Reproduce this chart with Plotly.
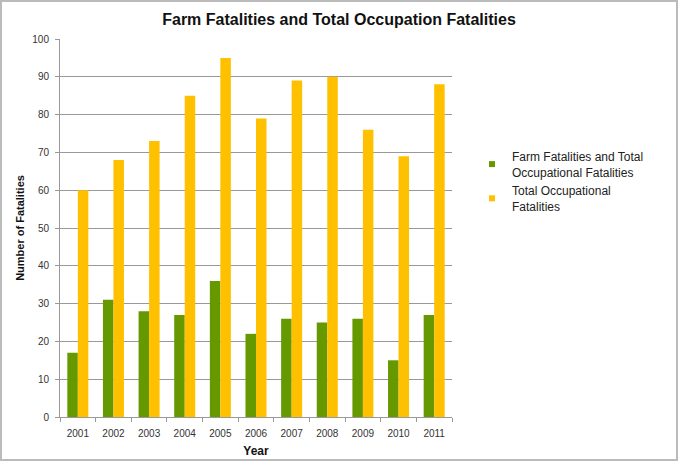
import plotly.graph_objects as go

years = ["2001", "2002", "2003", "2004", "2005", "2006", "2007", "2008", "2009", "2010", "2011"]
farm = [17, 31, 28, 27, 36, 22, 26, 25, 26, 15, 27]
total = [60, 68, 73, 85, 95, 79, 89, 90, 76, 69, 88]
y_ticks = [0, 10, 20, 30, 40, 50, 60, 70, 80, 90, 100]
names = ["Farm Fatalities and Total<br>Occupational Fatalities", "Total Occupational<br>Fatalities"]
colors = ["#669900", "#FFC000"]

W, H = 678, 461
ml, mr, mt, mb = 60, 226, 39, 44
pw, ph = W - ml - mr, H - mt - mb

fig = go.Figure()
for vals, nm, c in zip([farm, total], names, colors):
    fig.add_trace(go.Bar(x=years, y=vals, name=nm, showlegend=False, legendgroup=nm,
                         marker=dict(color=c, line=dict(width=0))))
for nm, c in zip(names, colors):
    fig.add_trace(go.Scatter(x=[None], y=[None], mode="markers", name=nm, legendgroup=nm,
                             marker=dict(symbol="square", size=6, color=c)))

fig.update_layout(
    width=W, height=H,
    margin=dict(l=ml, r=mr, t=mt, b=mb, autoexpand=False),
    paper_bgcolor="white", plot_bgcolor="white",
    font=dict(family="Liberation Sans, Arial, sans-serif", color="#222"),
    barmode="group", bargap=0.41, bargroupgap=0,
    title=dict(text="<b>Farm Fatalities and Total Occupation Fatalities</b>",
               x=0.5, xanchor="center", y=1 - 19 / H, yanchor="middle",
               font=dict(size=16, color="#111")),
    xaxis=dict(title=dict(text="<b>Year</b>", font=dict(size=12, color="#111"), standoff=8),
               tickfont=dict(size=10, color="#333"), showgrid=False,
               showline=True, linecolor="#999", linewidth=1,
               ticks="outside", ticklen=4, tickcolor="#999", tickson="boundaries",
               ticklabelstandoff=7),
    yaxis=dict(title=dict(text="<b>Number of Fatalities</b>", font=dict(size=11, color="#111"), standoff=5),
               range=[0, 100], tickvals=y_ticks, tickfont=dict(size=10, color="#333"),
               showgrid=True, gridcolor="#999", gridwidth=1,
               showline=True, linecolor="#999", linewidth=1,
               ticks="outside", ticklen=4, tickcolor="#999", zeroline=False,
               ticklabelstandoff=4),
    legend=dict(x=(472 - ml) / pw, y=(H - mb - 142) / ph, xanchor="left", yanchor="top",
                font=dict(size=12, color="#222"), traceorder="normal",
                itemwidth=30, tracegroupgap=0, bgcolor="rgba(0,0,0,0)"),
    shapes=[dict(type="rect", xref="paper", yref="paper",
                 x0=-(ml - 1) / pw, x1=1 + (mr - 1) / pw,
                 y0=-(mb - 1) / ph, y1=1 + (mt - 1) / ph,
                 line=dict(color="#bbb", width=2), layer="below")],
)

fig.write_html("out.html")
